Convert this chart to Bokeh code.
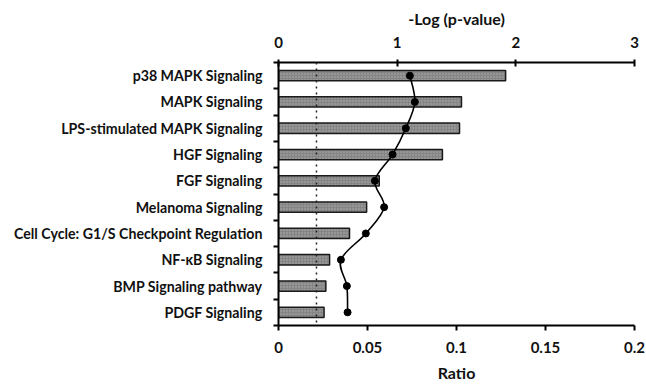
from bokeh.plotting import figure
from bokeh.models import Range1d, LinearAxis, FixedTicker, Span
from bokeh.embed import file_html
from bokeh.resources import INLINE

# ---- data ----
pathways = [
    "p38 MAPK Signaling",
    "MAPK Signaling",
    "LPS-stimulated MAPK Signaling",
    "HGF Signaling",
    "FGF Signaling",
    "Melanoma Signaling",
    "Cell Cycle: G1/S Checkpoint Regulation",
    "NF-\u03baB Signaling",
    "BMP Signaling pathway",
    "PDGF Signaling",
]
ratio = [0.1276, 0.1028, 0.1017, 0.0921, 0.0566, 0.0495, 0.0399, 0.0287, 0.0266, 0.0256]
neg_log_p = [1.107, 1.149, 1.073, 0.961, 0.812, 0.890, 0.736, 0.526, 0.576, 0.582]
threshold = 0.32
ratio_ticks = [0, 0.05, 0.1, 0.15, 0.2]
ratio_tick_labels = ["0", "0.05", "0.1", "0.15", "0.2"]
logp_ticks = [0, 1, 2, 3]

FONT = "Lato"

n = len(pathways)
ypos = [i + 0.5 for i in range(n)]

p = figure(
    width=646, height=385,
    x_range=Range1d(0, 0.2), y_range=Range1d(n, 0),
    output_backend="svg", toolbar_location=None,
    min_border_left=278, min_border_right=12, min_border_top=62, min_border_bottom=60,
    x_axis_location=None, y_axis_location=None,
)
p.outline_line_color = None
p.xgrid.visible = False
p.ygrid.visible = False
p.background_fill_color = "white"
p.border_fill_color = "white"
p.extra_x_ranges = {"logp": Range1d(0, 3)}

# threshold dotted line
p.add_layout(Span(location=threshold, dimension="height", x_range_name="logp",
                  line_color="#222222", line_width=1.5, line_dash="2 4"))

# bars
p.hbar(y=ypos, left=0, right=ratio, height=0.39,
       fill_color="#858585", line_color="#1a1a1a", line_width=1.5,
       hatch_pattern="dot", hatch_color="#b0b0b0", hatch_scale=3, hatch_weight=1)

# smoothed line (Catmull-Rom as cubic Bezier) through the -log(p) points
pts = list(zip(neg_log_p, ypos))
x0s, y0s, x1s, y1s, cx0s, cy0s, cx1s, cy1s = [], [], [], [], [], [], [], []
for i in range(n - 1):
    pa = pts[i - 1] if i > 0 else pts[i]
    pb = pts[i]
    pc = pts[i + 1]
    pd = pts[i + 2] if i + 2 < n else pts[i + 1]
    x0s.append(pb[0]); y0s.append(pb[1])
    x1s.append(pc[0]); y1s.append(pc[1])
    cx0s.append(pb[0] + (pc[0] - pa[0]) / 6); cy0s.append(pb[1] + (pc[1] - pa[1]) / 6)
    cx1s.append(pc[0] - (pd[0] - pb[0]) / 6); cy1s.append(pc[1] - (pd[1] - pb[1]) / 6)
p.bezier(x0=x0s, y0=y0s, x1=x1s, y1=y1s, cx0=cx0s, cy0=cy0s, cx1=cx1s, cy1=cy1s,
         x_range_name="logp", line_color="black", line_width=1.6)
p.scatter(neg_log_p, ypos, x_range_name="logp", size=7, color="black")

def style(ax, size="15px"):
    ax.axis_line_color = "black"
    ax.axis_line_width = 2
    ax.major_tick_line_color = "black"
    ax.major_tick_line_width = 2
    ax.minor_tick_line_color = None
    ax.major_label_text_font = FONT
    ax.major_label_text_font_style = "bold"
    ax.major_label_text_font_size = size
    ax.major_label_text_color = "#111111"
    ax.axis_label_text_font = FONT
    ax.axis_label_text_font_style = "bold"
    ax.axis_label_text_font_size = "16px"
    ax.axis_label_text_color = "#111111"

# bottom axis (Ratio)
xb = LinearAxis(ticker=FixedTicker(ticks=ratio_ticks), axis_label="Ratio")
style(xb)
xb.major_label_overrides = {t: l for t, l in zip(ratio_ticks, ratio_tick_labels)}
xb.major_tick_out = 5
xb.major_tick_in = 0
xb.major_label_standoff = 11
xb.axis_label_standoff = 7
p.add_layout(xb, "below")

# top axis (-log p)
xt = LinearAxis(x_range_name="logp", ticker=FixedTicker(ticks=logp_ticks), axis_label="-Log (p-value)")
style(xt)
xt.major_tick_out = 3
xt.major_tick_in = 4
xt.major_label_standoff = 12
xt.axis_label_standoff = 6
p.add_layout(xt, "above")

# left axis (pathways)
yl = LinearAxis(ticker=FixedTicker(ticks=ypos, minor_ticks=list(range(n + 1))))
style(yl, "14.2px")
yl.major_label_overrides = {y: name for y, name in zip(ypos, pathways)}
yl.major_tick_out = 0
yl.major_tick_in = 0
yl.major_tick_line_color = None
yl.minor_tick_line_color = "black"
yl.minor_tick_line_width = 2
yl.minor_tick_out = 5
yl.minor_tick_in = 0
yl.major_label_standoff = 11
p.add_layout(yl, "left")

open("out.html", "w").write(file_html(p, INLINE))
